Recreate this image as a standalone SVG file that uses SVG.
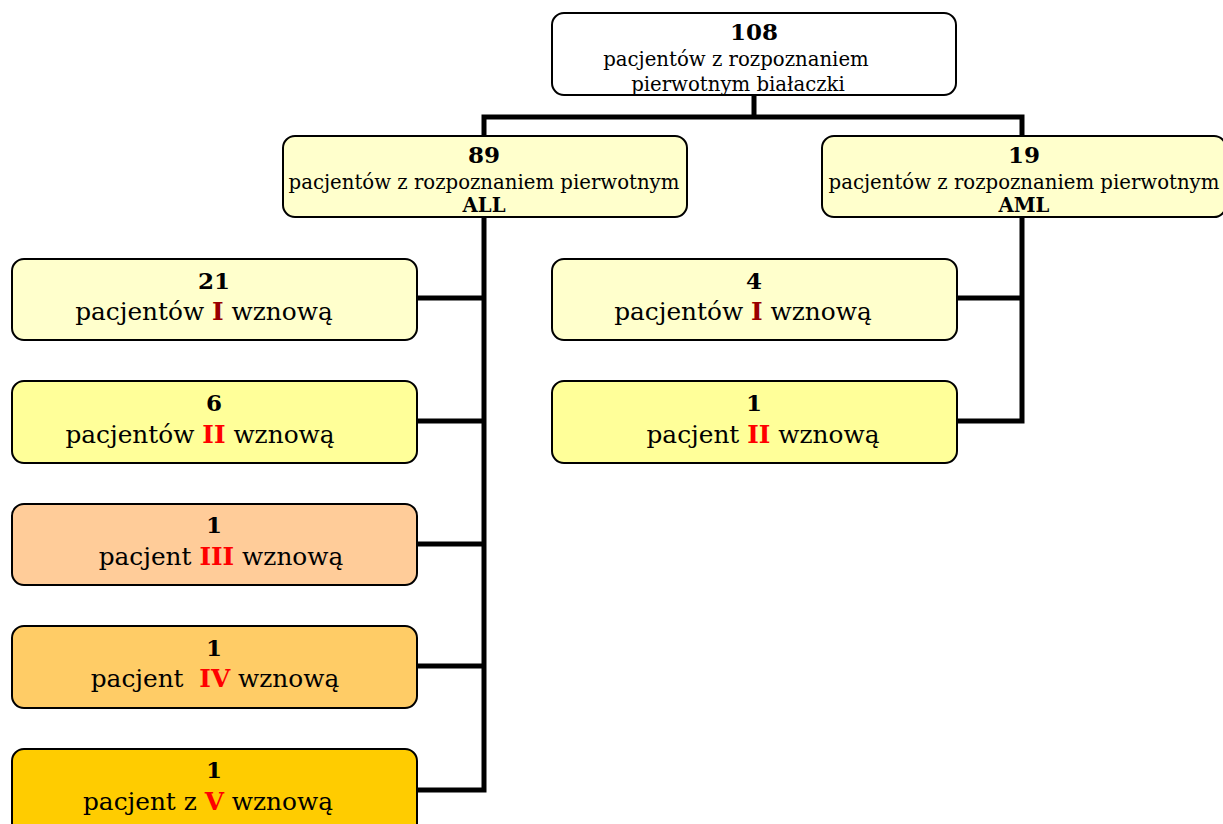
<svg xmlns="http://www.w3.org/2000/svg" width="1223" height="824" viewBox="0 0 1223 824">
<style>
.box{stroke:#000;stroke-width:2}
text{font-family:"DejaVu Serif","Liberation Serif",serif;text-anchor:middle;fill:#000}
.num{font-weight:bold;font-size:23px}
.t2{font-size:19.7px}
.t3{font-size:24.8px}
.b{font-weight:bold}
.dr{fill:#990000;font-weight:bold}
.r{fill:#FF0000;font-weight:bold}
.con{fill:none;stroke:#000;stroke-width:5}
</style>
<defs>
<clipPath id="clipTop"><rect x="552" y="13" width="404" height="82" rx="12"/></clipPath>
</defs>
<rect width="1223" height="824" fill="#fff"/>
<g id="connectors">
<path class="con" d="M754,95 V117 M484,136 V117 H1022 V136"/>
<path class="con" d="M484,217 V790 H417 M417,298 H484 M417,421 H484 M417,544 H484 M417,666 H484"/>
<path class="con" d="M1022,217 V421 H957 M957,298 H1022"/>
</g>
<g id="n108">
<rect class="box" x="552" y="13" width="404" height="82" rx="12" fill="#fff"/>
<g clip-path="url(#clipTop)">
<text class="num" x="754" y="40">108</text>
<text class="t2" x="736" y="66">pacjentów z rozpoznaniem</text>
<text class="t2" x="738" y="91">pierwotnym białaczki</text>
</g>
</g>
<g id="nALL">
<rect class="box" x="283" y="136" width="404" height="81" rx="12" fill="#FFFFCC"/>
<text class="num" x="484" y="163">89</text>
<text class="t2" x="484" y="189">pacjentów z rozpoznaniem pierwotnym</text>
<text class="t2 b" x="484" y="212">ALL</text>
</g>
<g id="nAML">
<rect class="box" x="822" y="136" width="404" height="81" rx="12" fill="#FFFFCC"/>
<text class="num" x="1024" y="163">19</text>
<text class="t2" x="1024" y="189">pacjentów z rozpoznaniem pierwotnym</text>
<text class="t2 b" x="1024" y="212">AML</text>
</g>
<g id="nALL1">
<rect class="box" x="12" y="259" width="405" height="81" rx="12" fill="#FFFFCC"/>
<text class="num" x="214" y="289">21</text>
<text class="t3" x="204" y="320">pacjentów <tspan class="dr">I</tspan> wznową</text>
</g>
<g id="nALL2">
<rect class="box" x="12" y="381" width="405" height="82" rx="12" fill="#FFFF99"/>
<text class="num" x="214" y="411">6</text>
<text class="t3" x="200" y="443">pacjentów <tspan class="r">II</tspan> wznową</text>
</g>
<g id="nALL3">
<rect class="box" x="12" y="504" width="405" height="81" rx="12" fill="#FFCC99"/>
<text class="num" x="214" y="533">1</text>
<text class="t3" x="221" y="565">pacjent <tspan class="r">III</tspan> wznową</text>
</g>
<g id="nALL4">
<rect class="box" x="12" y="626" width="405" height="82" rx="12" fill="#FFCC66"/>
<text class="num" x="214" y="656">1</text>
<text class="t3" x="215" y="687" xml:space="preserve">pacjent  <tspan class="r">IV</tspan> wznową</text>
</g>
<g id="nALL5">
<rect class="box" x="12" y="749" width="405" height="90" rx="12" fill="#FFCC00"/>
<text class="num" x="214" y="778">1</text>
<text class="t3" x="208" y="810">pacjent z <tspan class="r">V</tspan> wznową</text>
</g>
<g id="nAML1">
<rect class="box" x="552" y="259" width="405" height="81" rx="12" fill="#FFFFCC"/>
<text class="num" x="754" y="289">4</text>
<text class="t3" x="743" y="320">pacjentów <tspan class="dr">I</tspan> wznową</text>
</g>
<g id="nAML2">
<rect class="box" x="552" y="381" width="405" height="82" rx="12" fill="#FFFF99"/>
<text class="num" x="754" y="411">1</text>
<text class="t3" x="763" y="443">pacjent <tspan class="r">II</tspan> wznową</text>
</g>
</svg>
